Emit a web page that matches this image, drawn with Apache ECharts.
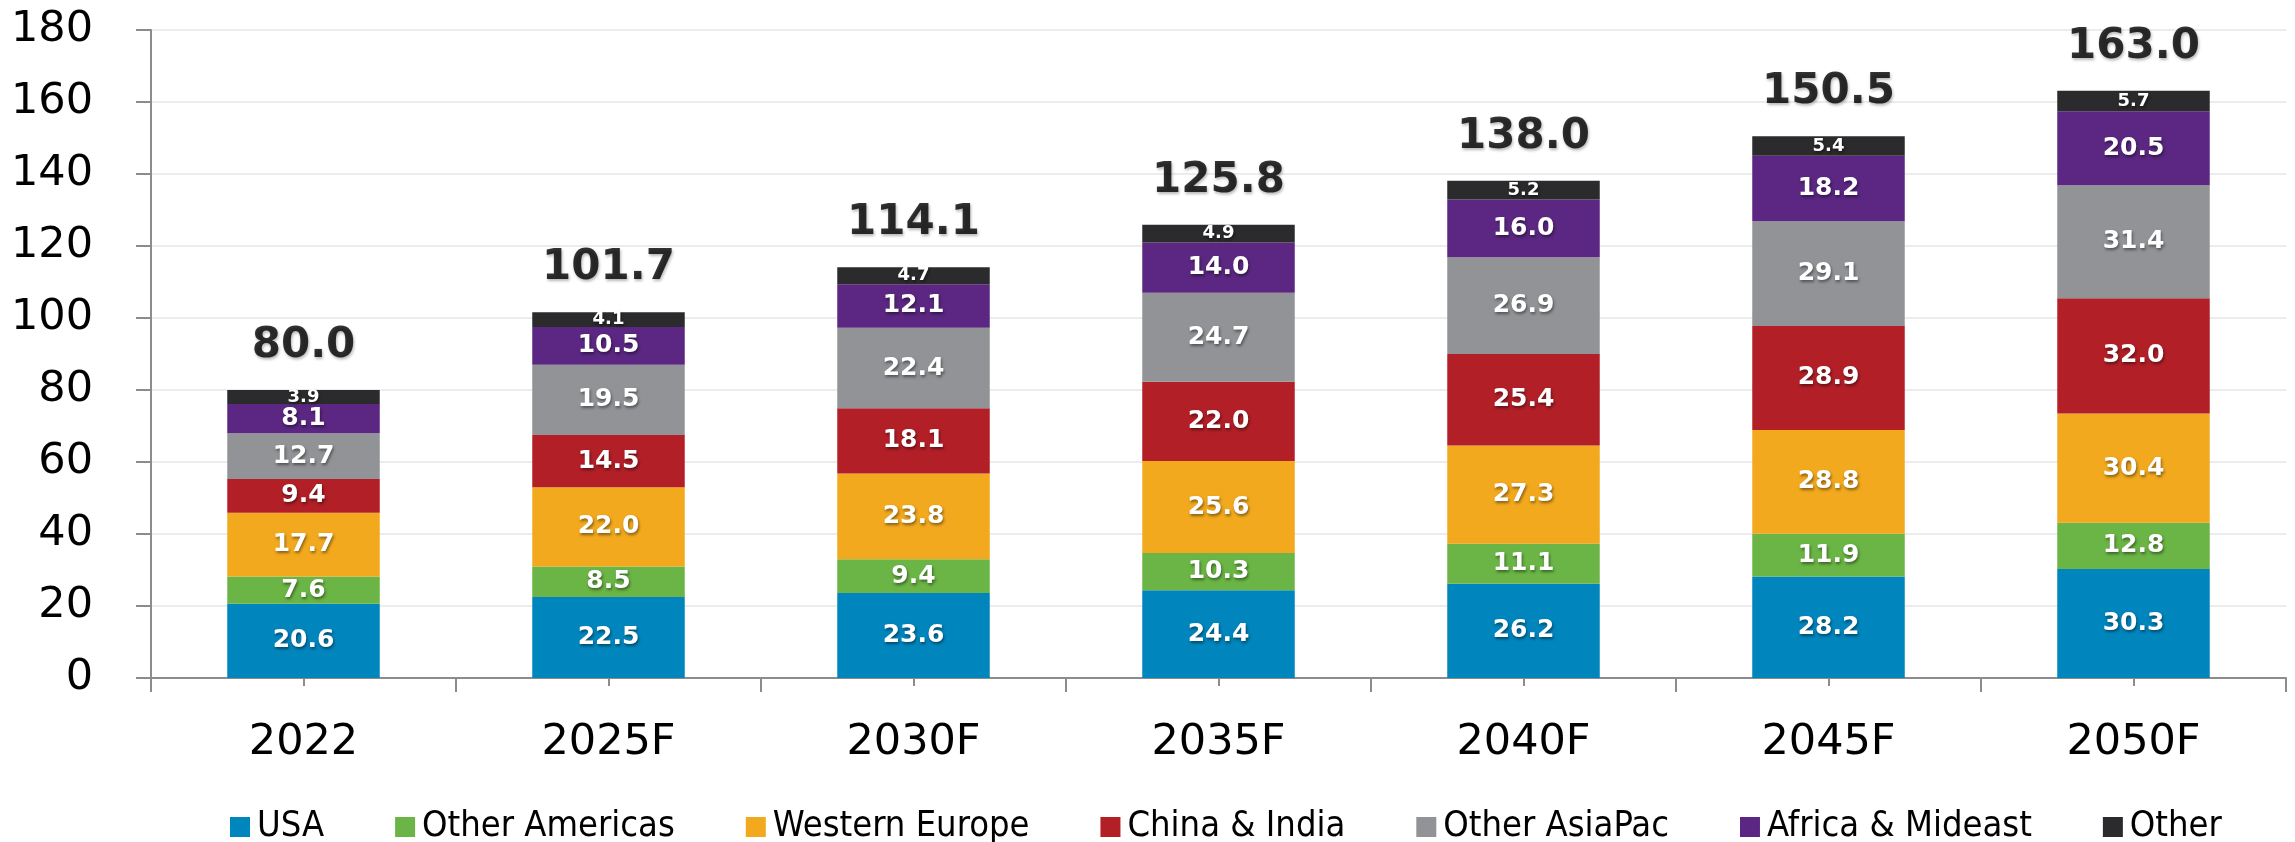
<!DOCTYPE html>
<html>
<head>
<meta charset="utf-8">
<script src="https://cdn.jsdelivr.net/npm/echarts@6/dist/echarts.min.js"></script>
<style>
  html, body { margin: 0; padding: 0; background: #fff; }
  #main { width: 2295px; height: 842px; }
</style>
</head>
<body>
<div id="main"></div>
<script>
var categories = ['2022', '2025F', '2030F', '2035F', '2040F', '2045F', '2050F'];
var usa = [20.6, 22.5, 23.6, 24.4, 26.2, 28.2, 30.3];
var otherAmericas = [7.6, 8.5, 9.4, 10.3, 11.1, 11.9, 12.8];
var westernEurope = [17.7, 22.0, 23.8, 25.6, 27.3, 28.8, 30.4];
var chinaIndia = [9.4, 14.5, 18.1, 22.0, 25.4, 28.9, 32.0];
var otherAsiaPac = [12.7, 19.5, 22.4, 24.7, 26.9, 29.1, 31.4];
var africaMideast = [8.1, 10.5, 12.1, 14.0, 16.0, 18.2, 20.5];
var other = [3.9, 4.1, 4.7, 4.9, 5.2, 5.4, 5.7];
var totals = [80.0, 101.7, 114.1, 125.8, 138.0, 150.5, 163.0];

var app = echarts.init(document.getElementById('main'));

var mainFont = 'DejaVu Sans';

function segment(name, data, color, small) {
    return {
        name: name,
        type: 'bar',
        stack: 'total',
        barWidth: '50%',
        data: data,
        itemStyle: { color: color },
        label: {
            show: true,
            position: 'inside',
            formatter: function (p) { return p.value.toFixed(1); },
            color: '#fff',
            fontFamily: mainFont,
            fontWeight: 'bold',
            fontSize: small ? 18 : 25,
            textShadowColor: 'rgba(0,0,0,0.45)',
            textShadowBlur: 3,
            textShadowOffsetX: 1,
            textShadowOffsetY: 2
        }
    };
}

var option = {
    animation: false,
    grid: { left: 151, right: 9, top: 30, bottom: 164 },
    legend: {
        top: 804,
        left: 225,
        itemWidth: 20,
        itemHeight: 20,
        itemGap: 71,
        icon: 'rect',
        textStyle: {
            fontFamily: 'Liberation Sans Narrow, DejaVu Sans Condensed, sans-serif',
            fontSize: 36,
            color: '#000',
            padding: [0, 0, 0, 2]
        },
        data: ['USA', 'Other Americas', 'Western Europe', 'China & India', 'Other AsiaPac', 'Africa & Mideast', 'Other']
    },
    xAxis: [{
        type: 'category',
        data: categories,
        axisLine: { lineStyle: { color: '#8c8c8c', width: 2 } },
        axisTick: { show: true, length: 14, lineStyle: { color: '#8c8c8c', width: 2 } },
        axisLabel: {
            margin: 43,
            fontFamily: mainFont,
            fontSize: 43,
            color: '#000'
        }
    }, {
        type: 'category',
        data: categories,
        position: 'bottom',
        axisLine: { show: false },
        axisTick: { show: true, alignWithLabel: true, length: 8, lineStyle: { color: '#8c8c8c', width: 2 } },
        axisLabel: { show: false }
    }],
    yAxis: {
        type: 'value',
        min: 0,
        max: 180,
        interval: 20,
        axisLine: { show: true, lineStyle: { color: '#8c8c8c', width: 2 } },
        axisTick: { show: true, length: 15, lineStyle: { color: '#8c8c8c', width: 2 } },
        splitLine: { lineStyle: { color: '#ececec', width: 2 } },
        axisLabel: {
            margin: 58,
            fontFamily: mainFont,
            fontSize: 43,
            color: '#000'
        }
    },
    series: [
        segment('USA', usa, '#0085BD'),
        segment('Other Americas', otherAmericas, '#6AB545'),
        segment('Western Europe', westernEurope, '#F2A91E'),
        segment('China & India', chinaIndia, '#B21F27'),
        segment('Other AsiaPac', otherAsiaPac, '#929396'),
        segment('Africa & Mideast', africaMideast, '#5B2782'),
        segment('Other', other, '#2B2B2E', true),
        {
            name: 'Total',
            type: 'scatter',
            data: totals,
            symbolSize: 0,
            silent: true,
            label: {
                show: true,
                position: 'top',
                distance: 23,
                formatter: function (p) { return p.value.toFixed(1); },
                color: '#000',
                fontFamily: mainFont,
                fontWeight: 'bold',
                fontSize: 42,
                textShadowColor: 'rgba(0,0,0,0.35)',
                textShadowBlur: 3,
                textShadowOffsetX: 1,
                textShadowOffsetY: 2
            }
        }
    ]
};

app.setOption(option);
</script>
</body>
</html>
